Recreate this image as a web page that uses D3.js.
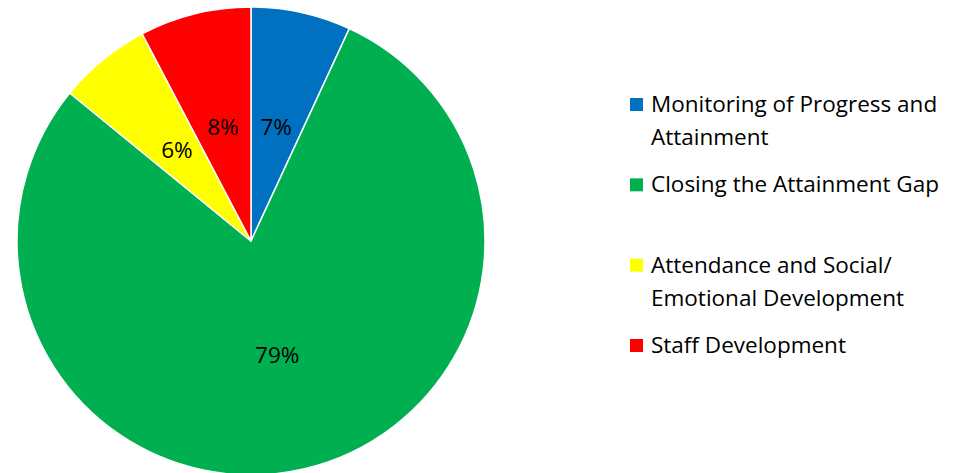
<!DOCTYPE html>
<html>
<head>
<meta charset="utf-8">
<script src="https://cdn.jsdelivr.net/npm/d3@7"></script>
<style>
  body { margin: 0; background: #fff; }
  text { font-family: "Open Sans", Lato, sans-serif; fill: #000; }
</style>
</head>
<body>
<div class="chart"></div>
<script>
//Chart data
var categories = ["Monitoring of Progress and Attainment", "Closing the Attainment Gap",
    "Attendance and Social/ Emotional Development", "Staff Development"];
var legendLines = [["Monitoring of Progress and", "Attainment"], ["Closing the Attainment Gap"],
    ["Attendance and Social/", "Emotional Development"], ["Staff Development"]];
var values = [6.9, 79.0, 6.4, 7.7];
var colors = ["#0070C0", "#00B050", "#FFFF00", "#FF0000"];

//Width and height
var w = 965;
var h = 473;
var cx = 251, cy = 241, radius = 234;

var svg = d3.select(".chart")
    .append("svg")
    .attr("width", w)
    .attr("height", h);

var pie = d3.pie().sort(null).value(d => d);
var arcs = pie(values);

var arc = d3.arc().innerRadius(0).outerRadius(radius);
//labels sit halfway out
var labelArc = d3.arc().innerRadius(radius * 0.5).outerRadius(radius * 0.5);

var g = svg.append("g")
    .attr("transform", "translate(" + cx + "," + cy + ")");

g.selectAll("path")
    .data(arcs)
    .enter()
    .append("path")
    .attr("d", arc)
    .attr("fill", (d, i) => colors[i])
    .attr("stroke", "#fff")
    .attr("stroke-width", 1.5);

//Percent labels
g.selectAll(".label")
    .data(arcs)
    .enter()
    .append("text")
    .attr("class", "label")
    .attr("transform", d => "translate(" + labelArc.centroid(d) + ")")
    .attr("text-anchor", "middle")
    .attr("dy", "0.35em")
    .style("font-size", "22.5px")
    .text(d => d3.format(".0f")(d.value) + "%");

//Legend
var legend = svg.append("g")
    .attr("transform", "translate(630, 0)");

var itemY = d3.scalePoint()
    .domain(d3.range(categories.length))
    .range([112, 353]);

var items = legend.selectAll(".item")
    .data(categories)
    .enter()
    .append("g")
    .attr("class", "item")
    .attr("transform", (d, i) => "translate(0," + itemY(i) + ")");

items.append("rect")
    .attr("x", 0)
    .attr("y", -14)
    .attr("width", 13)
    .attr("height", 13)
    .attr("fill", (d, i) => colors[i]);

items.append("text")
    .attr("x", 21)
    .style("font-size", "22.5px")
    .selectAll("tspan")
    .data((d, i) => legendLines[i])
    .enter()
    .append("tspan")
    .attr("x", 21)
    .attr("dy", (d, j) => j === 0 ? 0 : 33)
    .text(d => d);
</script>
</body>
</html>
